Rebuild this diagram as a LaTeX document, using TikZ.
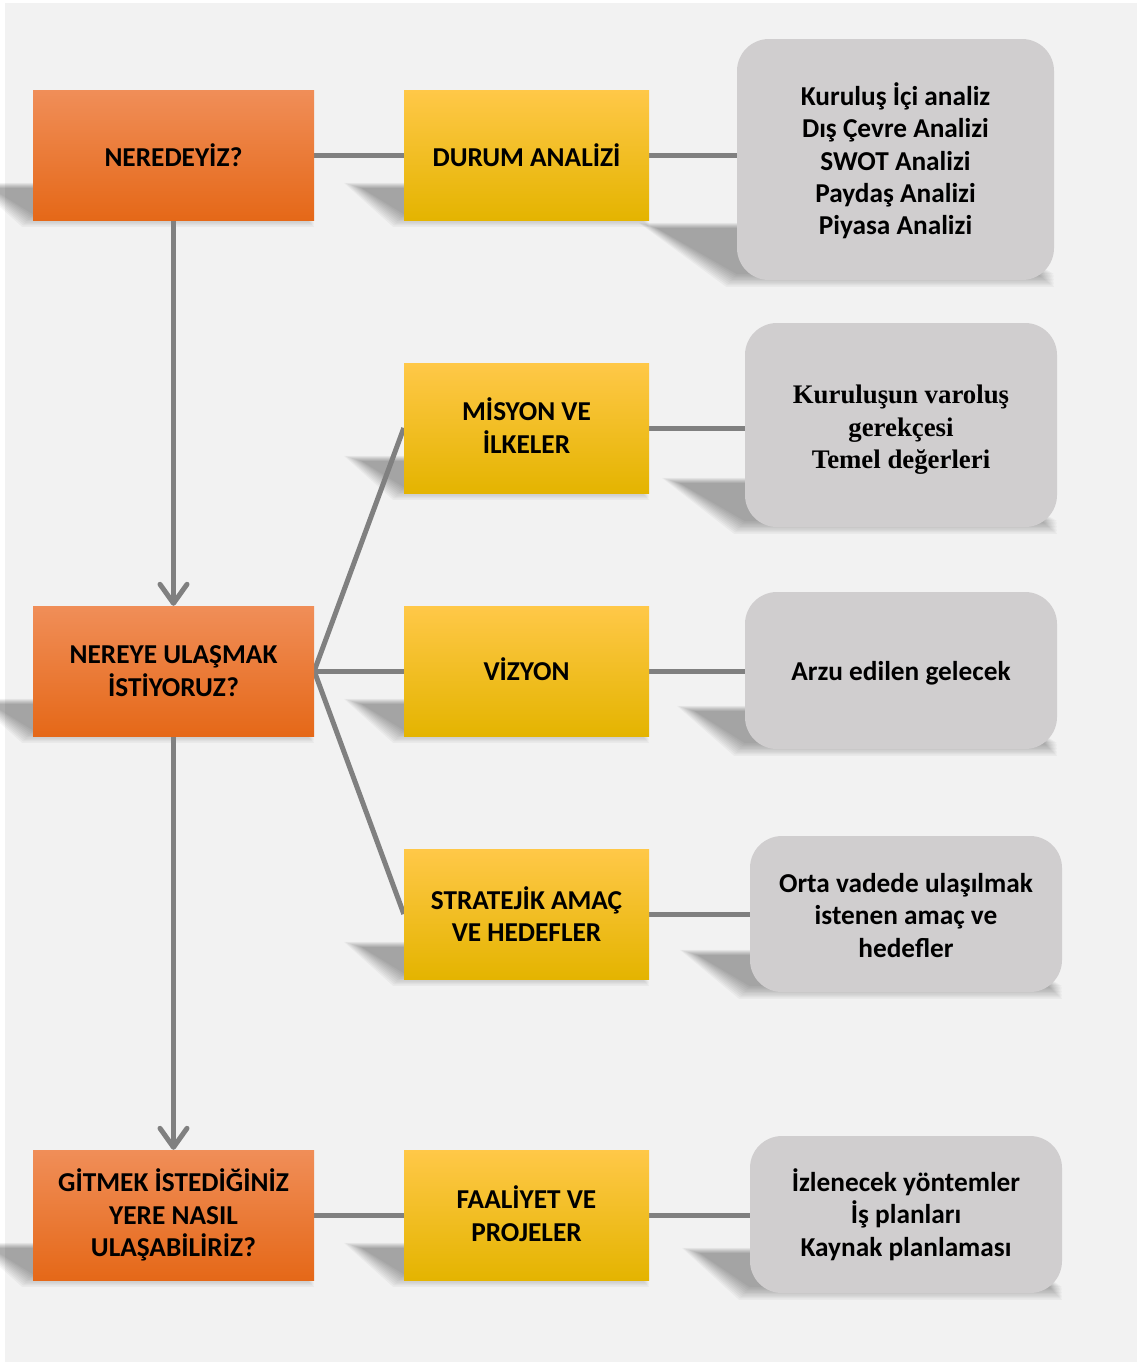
\documentclass[tikz,border=0pt]{standalone}
\usepackage{fontspec}
\setmainfont{Carlito}
\newfontfamily\notefont{Liberation Serif}
\usetikzlibrary{calc,arrows.meta}

\definecolor{pagebg}{HTML}{F2F2F2}
\definecolor{linegray}{HTML}{808080}
\definecolor{orTop}{RGB}{240,142,88}
\definecolor{orMid}{RGB}{243,122,38}
\definecolor{orBot}{RGB}{229,104,24}
\definecolor{yeTop}{RGB}{255,200,72}
\definecolor{yeMid}{RGB}{255,194,0}
\definecolor{yeBot}{RGB}{228,180,0}
\definecolor{noteFill}{RGB}{208,206,207}

\pgfdeclarelayer{back}
\pgfdeclarelayer{shade}
\pgfdeclarelayer{wires}
\pgfsetlayers{back,shade,wires,main}

% soft perspective shadow falling to the lower left of a box
\newcommand\dropshade[3]{%
  \foreach \r in {18,16,...,0}{%
    \fill[black,opacity=0.035]
      ($(#1.south west)+(-#2-\r,-#3-0.3*\r)$) --
      ($(#1.south east)+(-#2,-#3-0.3*\r)$) --
      ($(#1.south east)+(0,-6+0.7*\r)$) --
      ($(#1.south west)+(-0.6*\r,-6+0.7*\r)$) -- cycle;}}

% extra room above the first line / below the last line of a label
\newcommand\padtop[1]{\rule{0pt}{#1}}
\newcommand\padbot[1]{\rule[-#1]{0pt}{0pt}}

\begin{document}
\begin{tikzpicture}[x=1pt,y=-1pt,
  txt/.style={font=\fontsize{27.3}{32.4}\selectfont\bfseries, align=center,
    inner sep=0pt, text=black},
  question/.style={txt, rectangle, minimum width=281pt, minimum height=130pt,
    top color=orTop, middle color=orMid, bottom color=orBot},
  topic/.style={txt, rectangle, minimum width=245pt, minimum height=130pt,
    top color=yeTop, middle color=yeMid, bottom color=yeBot},
  note/.style={txt, rectangle, rounded corners=32pt, fill=noteFill,
    minimum width=312pt},
  conn/.style={draw=linegray, line width=5pt},
  flow/.style={conn, -{Straight Barb[round, length=19pt, width=27pt]}}]

\useasboundingbox (0,0) rectangle (1141,1365);
\begin{pgfonlayer}{back}
  \fill[white] (0,0) rectangle (1141,1365);
  \fill[pagebg] (5,3) rectangle (1137,1362);
\end{pgfonlayer}

% questions
\node[question] (q1) at (173.5,155) {NEREDEYİZ?};
\node[question] (q2) at (173.5,671) {NEREYE ULAŞMAK\\İSTİYORUZ?};
\node[question] (q3) at (173.5,1215) {GİTMEK İSTEDİĞİNİZ\\YERE NASIL\\ULAŞABİLİRİZ?};

% topics
\node[topic] (t1) at (526.5,155) {DURUM ANALİZİ};
\node[topic] (t2) at (526.5,428) {MİSYON VE\\İLKELER\padbot{5pt}};
\node[topic] (t3) at (526.5,671) {VİZYON\padbot{4pt}};
\node[topic] (t4) at (526.5,914) {STRATEJİK AMAÇ\\VE HEDEFLER};
\node[topic] (t5) at (526.5,1215) {FAALİYET VE\\PROJELER\padbot{3pt}};

% explanations
\node[note, minimum width=317pt, minimum height=241pt] (g1) at (895.5,159.5)
  {\padtop{25.5pt}Kuruluş İçi analiz\\Dış Çevre Analizi\\SWOT Analizi\\Paydaş Analizi\\Piyasa Analizi};
\node[note, minimum height=204pt,
  font=\fontsize{26.8}{32.2}\selectfont\notefont\bfseries] (g2) at (901,425)
  {\padtop{28pt}Kuruluşun varoluş\\gerekçesi\\Temel değerleri};
\node[note, minimum height=157pt] (g3) at (901,670.5) {\padtop{25pt}Arzu edilen gelecek};
\node[note, minimum height=156pt] (g4) at (906,914)
  {\padtop{22pt}Orta vadede ulaşılmak\\istenen amaç ve\\hedefler};
\node[note, minimum height=157pt] (g5) at (906,1214.5)
  {İzlenecek yöntemler\\İş planları\\Kaynak planlaması};

\begin{pgfonlayer}{shade}
  \dropshade{q1}{42}{32}
  \dropshade{q2}{42}{32}
  \dropshade{q3}{42}{32}
  \dropshade{t1}{42}{32}
  \dropshade{t2}{42}{32}
  \dropshade{t3}{42}{32}
  \dropshade{t4}{42}{32}
  \dropshade{t5}{42}{32}
  \dropshade{g1}{80}{52}
  \dropshade{g2}{65}{44}
  \dropshade{g3}{50}{38}
  \dropshade{g4}{52}{37}
  \dropshade{g5}{50}{40}
\end{pgfonlayer}

\begin{pgfonlayer}{wires}
  \draw[conn] (q1.east) -- (t1.west);
  \draw[conn] (t1.east) -- (t1.east -| g1.west);
  \draw[flow] (q1.south) -- (q2.north);
  \draw[conn] (q2.east) -- (t2.west);
  \draw[conn] (q2.east) -- (t3.west);
  \draw[conn] (q2.east) -- (t4.west);
  \draw[conn] (t2.east) -- (t2.east -| g2.west);
  \draw[conn] (t3.east) -- (t3.east -| g3.west);
  \draw[conn] (t4.east) -- (t4.east -| g4.west);
  \draw[flow] (q2.south) -- (q3.north);
  \draw[conn] (q3.east) -- (t5.west);
  \draw[conn] (t5.east) -- (t5.east -| g5.west);
\end{pgfonlayer}
\end{tikzpicture}
\end{document}
